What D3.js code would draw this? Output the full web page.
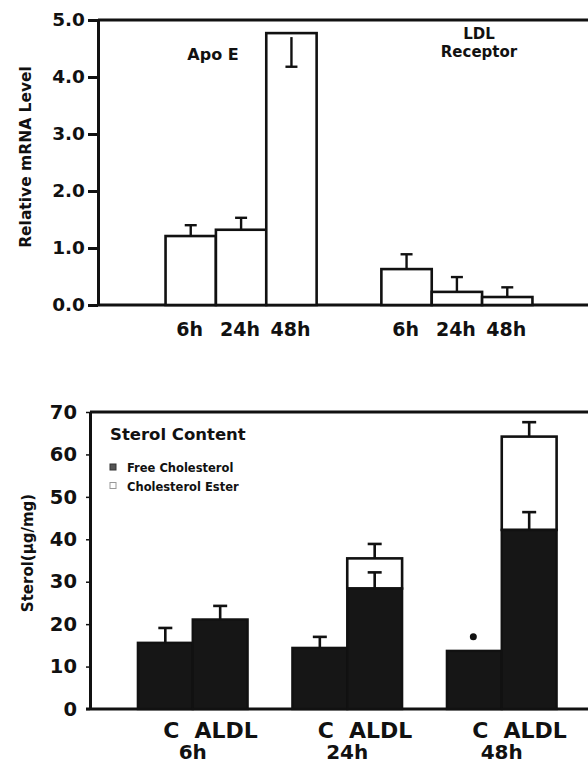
<!DOCTYPE html>
<html lang="en">
<head>
  <meta charset="UTF-8">
  <title>mRNA levels and sterol content</title>
  <script src="https://d3js.org/d3.v7.min.js"></script>
  <style>
    body { margin: 0; background: #fff; }
    text {
      font-family: "DejaVu Sans", sans-serif;
      font-weight: bold;
      fill: #111;
    }
    .axis path, .axis line { stroke: #111; }
    .axis text { font-family: "DejaVu Sans", sans-serif; font-weight: bold; fill: #111; }
  </style>
</head>
<body>
  <svg width="588" height="763"></svg>
  <script>
    // --- top panel: relative mRNA level ---
    const genes = ["Apo E", "LDL Receptor"];
    const times = ["6h", "24h", "48h"];
    const apoE = [1.21, 1.32, 4.77];
    const apoEErr = [0.19, 0.21, -0.59];   // 48h error is drawn downward
    const ldlr = [0.63, 0.23, 0.14];
    const ldlrErr = [0.26, 0.26, 0.17];
    const mrnaTicks = [0, 1, 2, 3, 4, 5];

    // --- bottom panel: sterol content ---
    const conditions = ["C", "ALDL"];
    const freeC = [15.6, 14.4, 13.7];
    const freeCErr = [3.5, 2.6, 0];
    const freeA = [21.1, 28.4, 42.2];
    const freeAErr = [3.2, 3.8, 4.2];
    const esterA = [0, 7.1, 22.0];
    const esterAErr = [0, 3.4, 3.4];
    const sigMark = [null, null, 17.0];   // dot over the 48h control bar
    const sterolTicks = [0, 10, 20, 30, 40, 50, 60, 70];

    const svg = d3.select("svg"),
          width = +svg.attr("width");

    // ================= top panel =================
    const panel1 = svg.append("g");
    const y1 = d3.scaleLinear().domain([0, 5]).range([305, 20]);
    const xg1 = d3.scaleBand().domain(genes).range([98, 600])
        .paddingInner(0.3).paddingOuter(0.313);
    const xt1 = d3.scaleBand().domain(times).range([0, xg1.bandwidth()]);

    const mrna = [];
    genes.forEach((g, gi) => {
      const vals = gi === 0 ? apoE : ldlr;
      const errs = gi === 0 ? apoEErr : ldlrErr;
      times.forEach((t, i) => mrna.push({ gene: g, time: t, value: vals[i], err: errs[i] }));
    });

    // frame lines
    panel1.append("line")
        .attr("x1", 98).attr("x2", width)
        .attr("y1", y1(5)).attr("y2", y1(5))
        .attr("stroke", "#111").attr("stroke-width", 3);
    panel1.append("line")
        .attr("x1", 98).attr("x2", width)
        .attr("y1", y1(0)).attr("y2", y1(0))
        .attr("stroke", "#111").attr("stroke-width", 3);

    const bx1 = d => xg1(d.gene) + xt1(d.time);

    panel1.selectAll("rect.bar")
      .data(mrna)
      .enter().append("rect")
        .attr("class", "bar")
        .attr("x", bx1)
        .attr("width", xt1.bandwidth())
        .attr("y", d => y1(d.value))
        .attr("height", d => y1(0) - y1(d.value))
        .attr("fill", "#fff")
        .attr("stroke", "#111")
        .attr("stroke-width", 2.6);

    const err1 = panel1.selectAll("g.err").data(mrna).enter().append("g");
    err1.append("line")
        .attr("x1", d => bx1(d) + xt1.bandwidth() / 2)
        .attr("x2", d => bx1(d) + xt1.bandwidth() / 2)
        .attr("y1", d => y1(d.value) + (d.err < 0 ? 4 : 0))
        .attr("y2", d => y1(d.value + d.err))
        .attr("stroke", "#111").attr("stroke-width", 2.4);
    err1.append("line")
        .attr("x1", d => bx1(d) + xt1.bandwidth() / 2 - 6)
        .attr("x2", d => bx1(d) + xt1.bandwidth() / 2 + 6)
        .attr("y1", d => y1(d.value + d.err))
        .attr("y2", d => y1(d.value + d.err))
        .attr("stroke", "#111").attr("stroke-width", 2.4);

    panel1.append("g")
        .attr("class", "axis")
        .attr("transform", "translate(98,0)")
        .call(d3.axisLeft(y1).tickValues(mrnaTicks).tickFormat(d3.format(".1f"))
          .tickSize(10).tickSizeOuter(0).tickPadding(3))
        .call(g => g.selectAll("path, line").attr("stroke-width", 3))
        .call(g => g.selectAll("text").attr("font-size", 18.5));

    panel1.selectAll("text.time")
      .data(mrna)
      .enter().append("text")
        .attr("class", "time")
        .attr("x", d => bx1(d) + xt1.bandwidth() / 2 - 1)
        .attr("y", 336)
        .attr("text-anchor", "middle")
        .attr("font-size", 19)
        .text(d => d.time);

    panel1.append("text")
        .attr("x", 213).attr("y", 60)
        .attr("text-anchor", "middle")
        .attr("font-size", 16)
        .text("Apo E");
    panel1.append("text")
        .attr("x", 479).attr("y", 39)
        .attr("text-anchor", "middle")
        .attr("font-size", 15)
        .text("LDL");
    panel1.append("text")
        .attr("x", 479).attr("y", 57)
        .attr("text-anchor", "middle")
        .attr("font-size", 15)
        .text("Receptor");

    panel1.append("text")
        .attr("transform", "translate(31,157) rotate(-90)")
        .attr("text-anchor", "middle")
        .attr("font-size", 15.5)
        .text("Relative mRNA Level");

    // ================= bottom panel =================
    const panel2 = svg.append("g");
    const y2 = d3.scaleLinear().domain([0, 70]).range([709, 412]);
    const xg2 = d3.scaleBand().domain(times).range([90, 604.5])
        .paddingInner(0.29).paddingOuter(0.31);
    const xc2 = d3.scaleBand().domain(conditions).range([0, xg2.bandwidth()]);

    const sterol = [];
    times.forEach((t, i) => {
      sterol.push({ time: t, cond: "C", free: freeC[i], freeErr: freeCErr[i], ester: 0, esterErr: 0, mark: sigMark[i] });
      sterol.push({ time: t, cond: "ALDL", free: freeA[i], freeErr: freeAErr[i], ester: esterA[i], esterErr: esterAErr[i], mark: null });
    });
    const bx2 = d => xg2(d.time) + xc2(d.cond);
    const cx2 = d => bx2(d) + xc2.bandwidth() / 2;

    panel2.append("line")
        .attr("x1", 90).attr("x2", width)
        .attr("y1", y2(70)).attr("y2", y2(70))
        .attr("stroke", "#111").attr("stroke-width", 3);
    panel2.append("line")
        .attr("x1", 86).attr("x2", width)
        .attr("y1", y2(0)).attr("y2", y2(0))
        .attr("stroke", "#111").attr("stroke-width", 3);

    // cholesterol ester (white, stacked on top)
    panel2.selectAll("rect.ester")
      .data(sterol.filter(d => d.ester > 0))
      .enter().append("rect")
        .attr("class", "ester")
        .attr("x", bx2)
        .attr("width", xc2.bandwidth())
        .attr("y", d => y2(d.free + d.ester))
        .attr("height", d => y2(d.free) - y2(d.free + d.ester))
        .attr("fill", "#fff")
        .attr("stroke", "#111")
        .attr("stroke-width", 2.6);

    // free cholesterol (black)
    panel2.selectAll("rect.free")
      .data(sterol)
      .enter().append("rect")
        .attr("class", "free")
        .attr("x", bx2)
        .attr("width", xc2.bandwidth())
        .attr("y", d => y2(d.free))
        .attr("height", d => y2(0) - y2(d.free))
        .attr("fill", "#161616")
        .attr("stroke", "#111")
        .attr("stroke-width", 2.4);

    // error bars
    const errs2 = [];
    sterol.forEach(d => {
      if (d.freeErr > 0) errs2.push({ d: d, base: d.free, top: d.free + d.freeErr });
      if (d.esterErr > 0) errs2.push({ d: d, base: d.free + d.ester, top: d.free + d.ester + d.esterErr });
    });
    const e2 = panel2.selectAll("g.err").data(errs2).enter().append("g");
    e2.append("line")
        .attr("x1", e => cx2(e.d)).attr("x2", e => cx2(e.d))
        .attr("y1", e => y2(e.base)).attr("y2", e => y2(e.top))
        .attr("stroke", "#111").attr("stroke-width", 2.6);
    e2.append("line")
        .attr("x1", e => cx2(e.d) - 7).attr("x2", e => cx2(e.d) + 7)
        .attr("y1", e => y2(e.top)).attr("y2", e => y2(e.top))
        .attr("stroke", "#111").attr("stroke-width", 2.6);

    panel2.selectAll("circle.mark")
      .data(sterol.filter(d => d.mark != null))
      .enter().append("circle")
        .attr("class", "mark")
        .attr("cx", d => cx2(d) - 1)
        .attr("cy", d => y2(d.mark))
        .attr("r", 3.5)
        .attr("fill", "#111");

    panel2.append("g")
        .attr("class", "axis")
        .attr("transform", "translate(90,0)")
        .call(d3.axisLeft(y2).tickValues(sterolTicks).tickFormat(d3.format("d"))
          .tickSize(4).tickSizeOuter(0).tickPadding(9))
        .call(g => g.select("path").attr("stroke-width", 3))
        .call(g => g.selectAll("line").attr("stroke-width", 1.5).attr("stroke", "#888"))
        .call(g => g.selectAll("text").attr("font-size", 19.5));

    panel2.selectAll("text.cond")
      .data(sterol)
      .enter().append("text")
        .attr("class", "cond")
        .attr("x", d => cx2(d) + 6)
        .attr("y", 738)
        .attr("text-anchor", "middle")
        .attr("font-size", 22)
        .text(d => d.cond);
    panel2.selectAll("text.grp")
      .data(times)
      .enter().append("text")
        .attr("class", "grp")
        .attr("x", d => xg2(d) + xg2.bandwidth() / 2)
        .attr("y", 759)
        .attr("text-anchor", "middle")
        .attr("font-size", 20)
        .text(d => d);

    panel2.append("text")
        .attr("transform", "translate(33,553) rotate(-90)")
        .attr("text-anchor", "middle")
        .attr("font-size", 15)
        .text("Sterol(\u03bcg/mg)");

    // legend
    panel2.append("text")
        .attr("x", 110).attr("y", 440)
        .attr("font-size", 16.5)
        .attr("fill", "#222")
        .text("Sterol Content");
    const legend = [
      { label: "Free Cholesterol", fill: "#555", stroke: "#333" },
      { label: "Cholesterol Ester", fill: "#fff", stroke: "#999" }
    ];
    const lg = panel2.selectAll("g.legend").data(legend).enter().append("g")
        .attr("transform", (d, i) => `translate(110,${464 + i * 18.5})`);
    lg.append("rect")
        .attr("width", 6).attr("height", 6)
        .attr("fill", d => d.fill).attr("stroke", d => d.stroke).attr("stroke-width", 1);
    lg.append("text")
        .attr("x", 17).attr("y", 8)
        .attr("font-size", 11.5)
        .attr("fill", "#222")
        .text(d => d.label);
  </script>
</body>
</html>
